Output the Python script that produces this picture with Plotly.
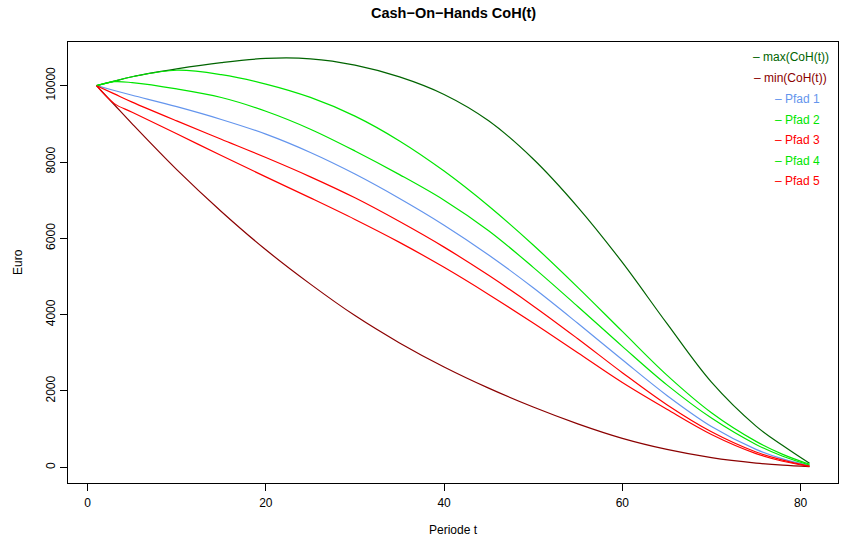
import plotly.graph_objects as go

# Periods at which the Cash-on-Hand values are listed
periode = [1, 3, 5, 10, 15, 20, 25, 30, 35, 40, 45, 50, 55, 60, 65, 70, 75, 78, 81]

coh_max = [10000, 10120, 10235, 10440, 10605, 10715, 10705, 10540, 10230, 9770,
           9080, 8080, 6820, 5370, 3770, 2230, 1080, 570, 105]
coh_min = [10000, 9500, 9000, 7800, 6705, 5700, 4800, 3975, 3260, 2630,
           2075, 1580, 1140, 760, 470, 255, 112, 55, 16]
pfad_1 = [10000, 9875, 9750, 9450, 9115, 8730, 8250, 7685, 7045, 6345,
          5564, 4704, 3774, 2819, 1884, 1070, 470, 220, 45]
pfad_2 = [10000, 10120, 10235, 10405, 10290, 10043, 9693, 9203, 8553, 7763,
          6848, 5826, 4716, 3561, 2416, 1430, 680, 340, 80]
pfad_3 = [10000, 9785, 9570, 9077, 8597, 8117, 7612, 7062, 6440, 5770,
          5030, 4230, 3370, 2480, 1640, 930, 400, 190, 30]
pfad_4 = [10000, 10105, 10080, 9915, 9690, 9330, 8860, 8290, 7670, 7000,
          6200, 5240, 4215, 3170, 2160, 1290, 600, 290, 60]
pfad_5 = [10000, 9530, 9305, 8740, 8170, 7610, 7060, 6495, 5895, 5240,
          4530, 3780, 3000, 2220, 1520, 860, 360, 160, 25]

series = [
    ("max(CoH(t))", coh_max, "#006400"),
    ("min(CoH(t))", coh_min, "#8B0000"),
    ("Pfad 1", pfad_1, "#6495ED"),
    ("Pfad 2", pfad_2, "#00E600"),
    ("Pfad 3", pfad_3, "#FF0000"),
    ("Pfad 4", pfad_4, "#00E600"),
    ("Pfad 5", pfad_5, "#FF0000"),
]

x_ticks = [0, 20, 40, 60, 80]
y_ticks = [0, 2000, 4000, 6000, 8000, 10000]

W, H = 841, 546
L, R, T, B = 68, 3, 42, 63
pw, ph = W - L - R, H - T - B

def px_x(px):
    return (px - L) / pw

def px_y(py):
    return (H - B - py) / ph

FONT = "Liberation Sans, Arial, Helvetica, sans-serif"

fig = go.Figure()
for name, vals, col in series:
    fig.add_trace(go.Scatter(
        x=periode, y=vals, mode="lines", name=name,
        line=dict(color=col, width=1.2, shape="spline", smoothing=1.0),
        showlegend=False,
    ))

annotations = []
# Title
annotations.append(dict(text="<b>Cash\u2212On\u2212Hands CoH(t)</b>", x=0.5, y=px_y(13),
                        xref="paper", yref="paper", showarrow=False,
                        font=dict(family=FONT, size=14.5, color="black"),
                        xanchor="center", yanchor="middle"))
# Axis titles
annotations.append(dict(text="Periode t", x=px_x(453), y=px_y(530),
                        xref="paper", yref="paper", showarrow=False,
                        font=dict(family=FONT, size=12, color="black"),
                        xanchor="center", yanchor="middle"))
annotations.append(dict(text="Euro", x=px_x(18), y=px_y(262),
                        xref="paper", yref="paper", showarrow=False, textangle=-90,
                        font=dict(family=FONT, size=12, color="black"),
                        xanchor="center", yanchor="middle"))

# Legend entries in the upper-right corner
leg_left = [751, 752, 773, 773, 773, 773, 773]
leg_y = [57, 78, 99, 119.5, 140, 160.5, 181]
for (name, _, col), lx, ly in zip(series, leg_left, leg_y):
    annotations.append(dict(text="\u2013 " + name, x=px_x(lx), y=px_y(ly),
                            xref="paper", yref="paper", showarrow=False,
                            font=dict(family=FONT, size=12, color=col),
                            xanchor="left", yanchor="middle"))

fig.update_layout(
    width=W, height=H,
    margin=dict(l=L, r=R, t=T, b=B, pad=0),
    paper_bgcolor="white", plot_bgcolor="white",
    font=dict(family=FONT, size=12, color="black"),
    annotations=annotations,
    showlegend=False,
)
fig.update_xaxes(
    range=[-2.2, 84.2], tickvals=x_ticks, ticktext=[str(v) for v in x_ticks],
    showgrid=False, zeroline=False, showline=True, linecolor="black", linewidth=1,
    mirror=True, ticks="outside", ticklen=7, tickcolor="black", tickwidth=1,
    ticklabelstandoff=2, tickfont=dict(family=FONT, size=12, color="black"),
)
fig.update_yaxes(
    range=[-411, 11145], tickvals=y_ticks, ticktext=[str(v) for v in y_ticks],
    showgrid=False, zeroline=False, showline=True, linecolor="black", linewidth=1,
    mirror=True, ticks="outside", ticklen=7, tickcolor="black", tickwidth=1,
    tickangle=-90, ticklabelstandoff=0, tickfont=dict(family=FONT, size=12, color="black"),
)

fig.write_html("out.html")
